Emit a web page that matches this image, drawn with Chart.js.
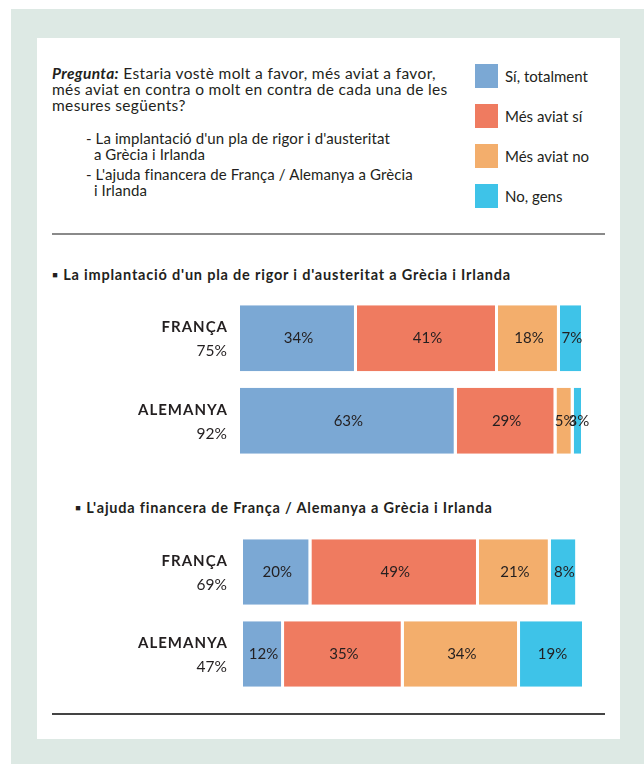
<!DOCTYPE html>
<html>
<head>
<meta charset="utf-8">
<script src="https://cdn.jsdelivr.net/npm/chart.js@4"></script>
<style>
  body { margin: 0; width: 644px; height: 764px; background: #fff; font-family: Lato, "DejaVu Sans", sans-serif; color: #231f20; }
  #frame { position: absolute; left: 11px; top: 9px; width: 633px; height: 755px; background: #dde9e4; }
  #panel { position: absolute; left: 37px; top: 38px; width: 583px; height: 701px; background: #fff; }
  .abs { position: absolute; white-space: nowrap; }
  #question { left: 52px; top: 65px; font-size: 15.5px; line-height: 16px; letter-spacing: 0.35px; }
  #question b { font-style: italic; }
  .item { font-size: 15px; line-height: 16px; letter-spacing: 0.1px; }
  .hr { position: absolute; left: 52px; width: 553px; height: 2px; }
  .heading { font-weight: bold; font-size: 14.5px; letter-spacing: 0.8px; }
  .leg { position: absolute; left: 475px; font-size: 15px; }
  .leg span { position: absolute; left: 0; top: 0; width: 23px; height: 24px; }
  .leg div { position: absolute; left: 30px; top: 3px; white-space: nowrap; }
  canvas { position: absolute; left: 0; }
</style>
</head>
<body>
<div id="frame"></div>
<div id="panel"></div>
<div id="question" class="abs"><b>Pregunta:</b> Estaria vostè molt a favor, més aviat a favor,<br>més aviat en contra o molt en contra de cada una de les<br>mesures següents?</div>
<div class="abs item" style="left:86px;top:130px;">- La implantació d'un pla de rigor i d'austeritat<br>&nbsp;&nbsp;a Grècia i Irlanda</div>
<div class="abs item" style="left:86px;top:166px;">- L'ajuda financera de França / Alemanya a Grècia<br>&nbsp;&nbsp;i Irlanda</div>
<div id="legend"></div>
<div class="hr" style="top:233px;background:#8a8a8a;"></div>
<div class="abs heading" style="left:52px;top:266px;">▪ La implantació d'un pla de rigor i d'austeritat a Grècia i Irlanda</div>
<div class="abs heading" style="left:75px;top:499px;">▪ L'ajuda financera de França / Alemanya a Grècia i Irlanda</div>
<div class="hr" style="top:713px;background:#444;"></div>
<canvas id="rigor" style="top:290px;"></canvas>
<canvas id="ajuda" style="top:524px;"></canvas>
<script>
// categories and series
const countries = ["FRANÇA", "ALEMANYA"];
const series = ["Sí, totalment", "Més aviat sí", "Més aviat no", "No, gens"];
const colors = ["#7ba8d4", "#ef7b60", "#f3ae6c", "#3ec3e8"];

// La implantació d'un pla de rigor...
const rigorTotals = [75, 92];
const rigorSiTotalment = [34, 63];
const rigorMesSi = [41, 29];
const rigorMesNo = [18, 5];
const rigorNoGens = [7, 3];

// L'ajuda financera...
const ajudaTotals = [69, 47];
const ajudaSiTotalment = [20, 12];
const ajudaMesSi = [49, 35];
const ajudaMesNo = [21, 34];
const ajudaNoGens = [8, 19];

// legend
const legend = document.getElementById("legend");
series.forEach((s, i) => {
  const el = document.createElement("div");
  el.className = "leg";
  el.style.top = (64 + i * 40) + "px";
  el.innerHTML = '<span style="background:' + colors[i] + '"></span><div>' + s + "</div>";
  legend.appendChild(el);
});

// percent text in each segment + row labels on the left
const labelsPlugin = {
  id: "labels",
  afterDatasetsDraw(chart) {
    const c = chart.ctx;
    c.save();
    c.fillStyle = "#231f20";
    c.font = "15px Lato";
    c.textAlign = "center";
    c.textBaseline = "middle";
    chart.data.datasets.forEach((ds, i) => {
      chart.getDatasetMeta(i).data.forEach((bar, j) => {
        c.fillText(ds.data[j] + "%", (bar.x + bar.base) / 2, bar.y);
      });
    });
    const yScale = chart.scales.y;
    const totals = chart.options.plugins.labels.totals;
    c.textAlign = "right";
    chart.data.labels.forEach((lab, j) => {
      const y = yScale.getPixelForValue(j);
      c.font = "bold 15px Lato";
      c.letterSpacing = "1px";
      c.fillText(lab, 228, y - 11);
      c.font = "15.5px Lato";
      c.letterSpacing = "0px";
      c.fillText(totals[j] + "%", 227, y + 13);
    });
    c.restore();
  }
};

function makeChart(id, height, pad, totals, values) {
  const canvas = document.getElementById(id);
  canvas.width = 644;
  canvas.height = height;
  return new Chart(canvas.getContext("2d"), {
    type: "bar",
    data: {
      labels: countries,
      datasets: series.map((s, i) => ({
        label: s,
        data: values[i],
        backgroundColor: colors[i],
        borderColor: "#fff",
        borderWidth: { top: 0, bottom: 0, left: 0, right: 3 },
        borderSkipped: false,
        barPercentage: 0.8,
        categoryPercentage: 1,
      })),
    },
    options: {
      indexAxis: "y",
      responsive: false,
      animation: false,
      layout: { padding: pad },
      scales: {
        x: { stacked: true, min: 0, max: 100, display: false },
        y: { stacked: true, display: false },
      },
      plugins: {
        legend: { display: false },
        tooltip: { enabled: false },
        labels: { totals: totals },
      },
    },
    plugins: [labelsPlugin],
  });
}

makeChart("rigor", 180, { left: 240, right: 60, top: 7, bottom: 8 }, rigorTotals,
  [rigorSiTotalment, rigorMesSi, rigorMesNo, rigorNoGens]);
makeChart("ajuda", 180, { left: 243, right: 59, top: 7, bottom: 9 }, ajudaTotals,
  [ajudaSiTotalment, ajudaMesSi, ajudaMesNo, ajudaNoGens]);
</script>
</body>
</html>
